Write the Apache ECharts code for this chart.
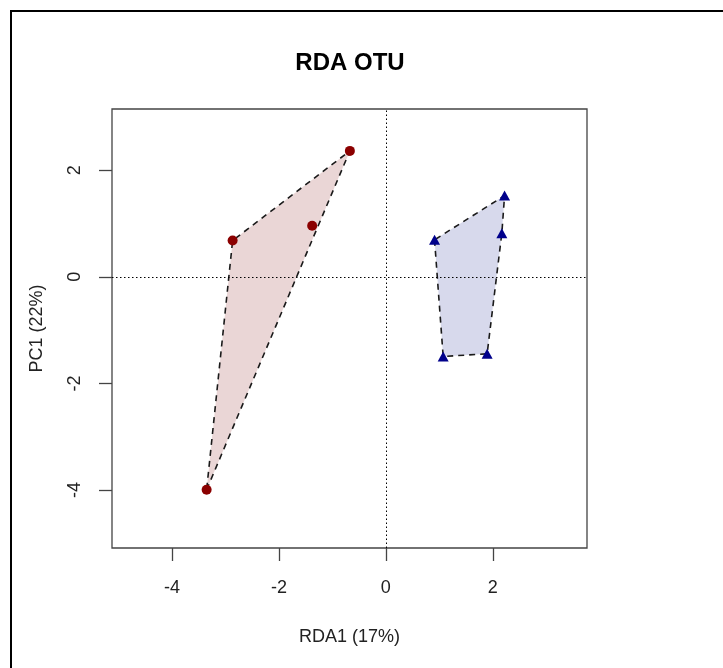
<!DOCTYPE html>
<html>
<head>
<meta charset="utf-8">
<script src="https://cdn.jsdelivr.net/npm/echarts@6/dist/echarts.min.js"></script>
<style>
html,body{margin:0;padding:0;background:#fff;}
#wrap{position:relative;width:723px;height:668px;overflow:hidden;}
#chart{position:absolute;left:0;top:0;width:723px;height:668px;}
#frame{position:absolute;left:10px;top:10px;width:800px;height:800px;border-left:2px solid #000;border-top:2px solid #000;pointer-events:none;}
</style>
</head>
<body>
<div id="wrap"><div id="chart"></div><div id="frame"></div></div>
<script>
// ---- data ----
const titleText = 'RDA OTU';
const xName = 'RDA1 (17%)';
const yName = 'PC1 (22%)';
const redX = [-0.673, -1.378, -2.865, -3.351];
const redY = [2.364, 0.957, 0.681, -3.996];
const blueX = [2.219, 2.168, 0.910, 1.071, 1.893];
const blueY = [1.525, 0.820, 0.694, -1.495, -1.445];
const xTicks = [-4, -2, 0, 2];
const yTicks = [-4, -2, 0, 2];
const xRange = [-5.12, 3.76];
const yRange = [-5.09, 3.15];

function toPts(xs, ys) { return xs.map((x, i) => [x, ys[i]]); }
function hull(points) {
  const p = points.slice().sort((a, b) => a[0] - b[0] || a[1] - b[1]);
  const cross = (o, a, b) => (a[0]-o[0])*(b[1]-o[1]) - (a[1]-o[1])*(b[0]-o[0]);
  const lower = [], upper = [];
  for (const q of p) { while (lower.length >= 2 && cross(lower[lower.length-2], lower[lower.length-1], q) <= 0) lower.pop(); lower.push(q); }
  for (let i = p.length - 1; i >= 0; i--) { const q = p[i]; while (upper.length >= 2 && cross(upper[upper.length-2], upper[upper.length-1], q) <= 0) upper.pop(); upper.push(q); }
  upper.pop(); lower.pop();
  return lower.concat(upper);
}
const redPts = toPts(redX, redY);
const bluePts = toPts(blueX, blueY);
const redHull = hull(redPts);
const blueHull = hull(bluePts);

function hullSeries(h, fill) {
  return {
    type: 'custom',
    silent: true,
    z: 1,
    data: h,
    encode: { x: 0, y: 1 },
    renderItem: function (params, api) {
      if (params.dataIndex !== 0) return null;
      const pts = h.map(p => api.coord(p));
      return {
        type: 'polygon',
        shape: { points: pts },
        style: { fill: fill, stroke: '#1a1a1a', lineWidth: 1.6, lineDash: [6, 5] }
      };
    }
  };
}

const FONT = 'Liberation Sans';
const chart = echarts.init(document.getElementById('chart'), null, { renderer: 'canvas' });
chart.setOption({
  animation: false,
  backgroundColor: '#fff',
  title: {
    text: titleText, left: 345, top: 46, textAlign: 'center',
    textStyle: { fontFamily: FONT, fontSize: 24, fontWeight: 'bold', color: '#000' }
  },
  grid: {
    left: 112, top: 109, width: 475, height: 439,
    show: true, borderColor: '#444', borderWidth: 1.3, backgroundColor: 'transparent'
  },
  xAxis: {
    type: 'value', min: xRange[0], max: xRange[1],
    name: xName, nameLocation: 'middle', nameGap: 80,
    nameTextStyle: { fontFamily: FONT, fontSize: 18, color: '#222' },
    axisLine: { show: false, onZero: false },
    splitLine: { show: false },
    axisTick: { show: true, inside: false, length: 13, customValues: xTicks, lineStyle: { color: '#444', width: 1.3 } },
    axisLabel: { customValues: xTicks, margin: 31, fontFamily: FONT, fontSize: 18, color: '#222' }
  },
  yAxis: {
    type: 'value', min: yRange[0], max: yRange[1],
    name: yName, nameLocation: 'middle', nameGap: 66, nameRotate: 90,
    nameTextStyle: { fontFamily: FONT, fontSize: 18, color: '#222' },
    axisLine: { show: false, onZero: false },
    splitLine: { show: false },
    axisTick: { show: true, inside: false, length: 13, customValues: yTicks, lineStyle: { color: '#444', width: 1.3 } },
    axisLabel: { customValues: yTicks, rotate: 90, margin: 28, fontFamily: FONT, fontSize: 18, color: '#222' }
  },
  series: [
    hullSeries(redHull, '#EAD6D6'),
    hullSeries(blueHull, '#D7D9EC'),
    {
      type: 'scatter', z: 3, silent: true,
      data: [],
      markLine: {
        silent: true, symbol: 'none', label: { show: false },
        lineStyle: { color: '#000', width: 1, type: [1.5, 2.5] },
        data: [{ xAxis: 0 }, { yAxis: 0 }]
      }
    },
    {
      type: 'scatter', z: 4, symbol: 'circle', symbolSize: 10,
      itemStyle: { color: '#8B0000', opacity: 1 },
      data: redPts
    },
    {
      type: 'scatter', z: 4, symbol: 'triangle', symbolSize: [11, 10],
      itemStyle: { color: '#00008B', opacity: 1 },
      data: bluePts
    }
  ]
});
</script>
</body>
</html>
